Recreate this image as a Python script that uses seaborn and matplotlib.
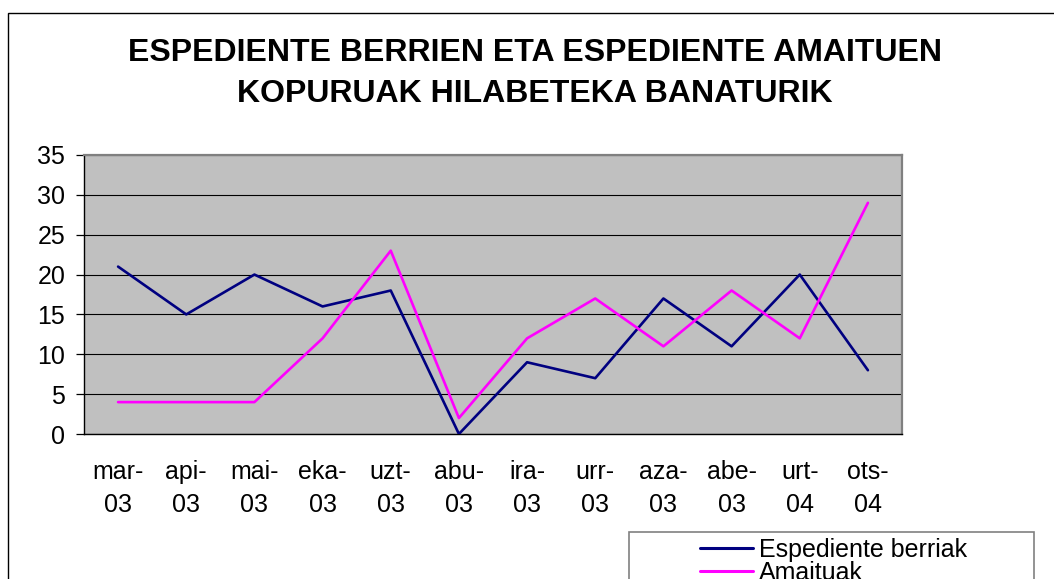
import pandas as pd
import numpy as np
import matplotlib.pyplot as plt
import matplotlib.patches as mpatches
import seaborn as sns

sns.set_style("white")
plt.rcParams['font.family'] = ['Liberation Sans', 'DejaVu Sans']
plt.rcParams['text.color'] = 'black'
plt.rcParams['xtick.color'] = 'black'
plt.rcParams['ytick.color'] = 'black'

# data
months = ["mar-\n03", "api-\n03", "mai-\n03", "eka-\n03", "uzt-\n03", "abu-\n03",
          "ira-\n03", "urr-\n03", "aza-\n03", "abe-\n03", "urt-\n04", "ots-\n04"]
berriak = [21, 15, 20, 16, 18, 0, 9, 7, 17, 11, 20, 8]
amaituak = [4, 4, 4, 12, 23, 2, 12, 17, 11, 18, 12, 29]
series_names = ["Espediente berriak", "Amaituak"]
colors = ["#000080", "#FF00FF"]

df = pd.DataFrame({
    "pos": list(range(len(months))) * 2,
    "value": berriak + amaituak,
    "serie": [series_names[0]] * len(months) + [series_names[1]] * len(months),
})

fig = plt.figure(figsize=(10.54, 5.79), dpi=100)
ax = fig.add_axes([84 / 1054, 1 - 434 / 579, (902 - 84) / 1054, (434 - 155) / 579])
ax.set_facecolor("#C0C0C0")

sns.lineplot(data=df, x="pos", y="value", hue="serie", palette=colors,
             linewidth=1.9, ax=ax, legend=False, zorder=3)

ax.set_xlim(-0.5, len(months) - 0.5)
ax.set_ylim(0, 35)
ax.set_yticks(range(0, 36, 5))
ax.yaxis.grid(True, color="black", linewidth=0.8)
ax.set_axisbelow(True)

ax.set_xticks(range(len(months)))
ax.set_xticklabels(months, fontsize=18, linespacing=1.45)
ax.set_xticks(np.arange(-0.5, len(months), 1), minor=True)
ax.tick_params(axis="x", which="major", length=0, pad=19)
ax.tick_params(axis="x", which="minor", length=6, width=0.9, color="black", direction="out")
ax.tick_params(axis="y", labelsize=18, length=5.5, width=0.9, color="black", pad=8, left=True)
ax.set_xlabel("")
ax.set_ylabel("")

for side in ["top", "right"]:
    ax.spines[side].set_color("#808080")
    ax.spines[side].set_linewidth(1.6)
for side in ["left", "bottom"]:
    ax.spines[side].set_color("black")
    ax.spines[side].set_linewidth(1.0)

fig.text(535 / 1054, 1 - 53 / 579, "ESPEDIENTE BERRIEN ETA ESPEDIENTE AMAITUEN",
         ha="center", va="center", fontsize=23, fontweight="bold")
fig.text(535 / 1054, 1 - 94 / 579, "KOPURUAK HILABETEKA BANATURIK",
         ha="center", va="center", fontsize=23, fontweight="bold")

# outer chart frame
fig.add_artist(mpatches.Rectangle((8 / 1054, -0.1), 1.2, 1 - 13 / 579 + 0.1,
                                  transform=fig.transFigure, fill=False,
                                  edgecolor="black", linewidth=1.0))
# legend frame
fig.add_artist(mpatches.Rectangle((629 / 1054, -0.1), (1034 - 629) / 1054, 1 - 532 / 579 + 0.1,
                                  transform=fig.transFigure, fill=False,
                                  edgecolor="#808080", linewidth=1.2))

handles = [plt.Line2D([], [], color=c, linewidth=2.2) for c in colors]
fig.legend(handles, series_names, loc="upper left",
           bbox_to_anchor=(700 / 1054, 1 - 538 / 579), frameon=False,
           fontsize=18, handlelength=2.1, handletextpad=0.25,
           labelspacing=-0.05, borderaxespad=0, borderpad=0)

fig.savefig("out.png", dpi=100)
